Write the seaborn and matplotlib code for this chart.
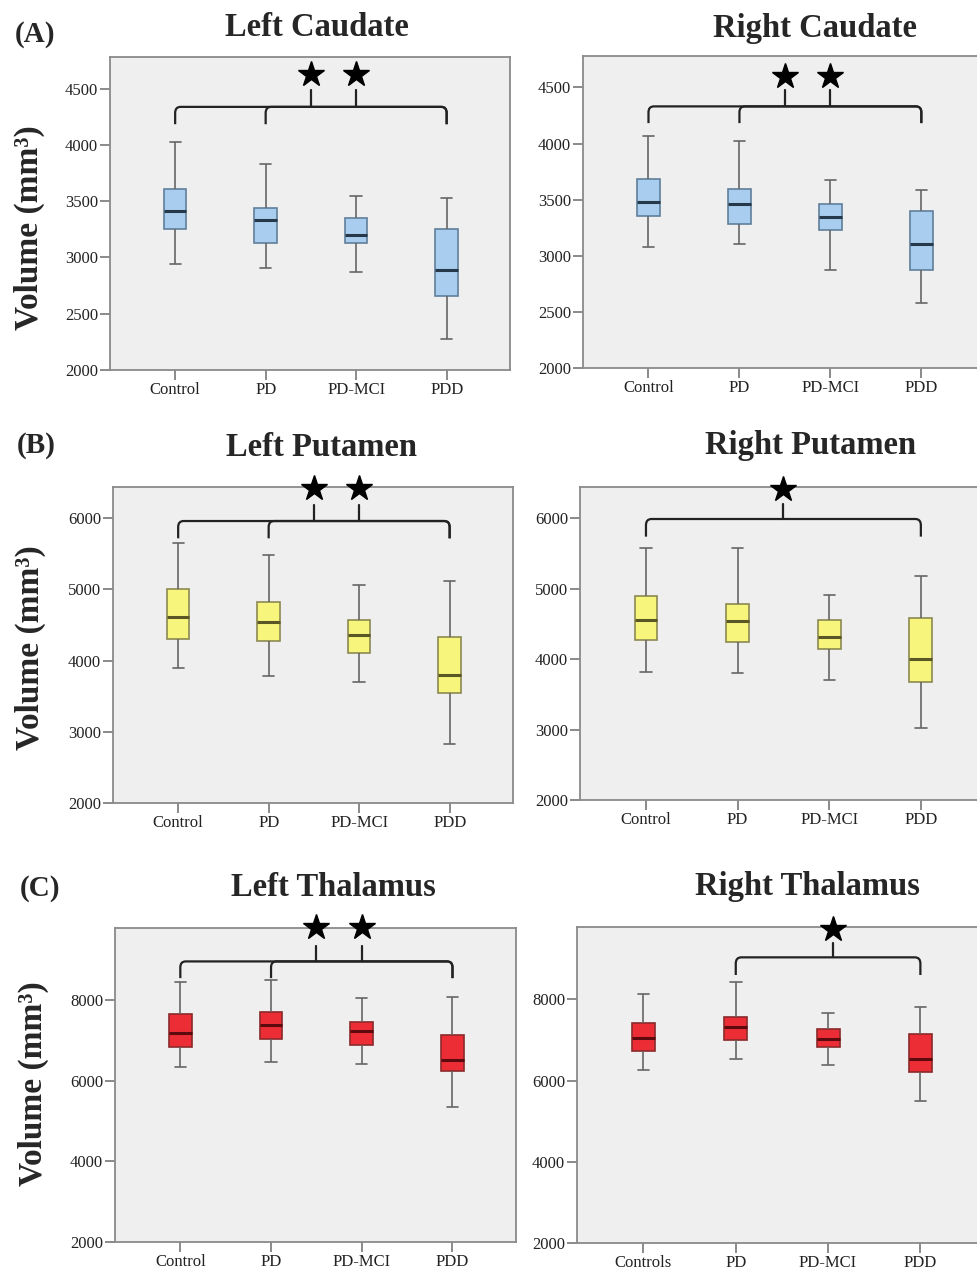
import numpy as np
import pandas as pd
import seaborn as sns
import matplotlib.pyplot as plt
from matplotlib.path import Path
from matplotlib.patches import PathPatch

groups = ["Control", "PD", "PD-MCI", "PDD"]
groups_rt = ["Controls", "PD", "PD-MCI", "PDD"]

# five-number summaries: min, q1, median, q3, max
left_caudate = [[2938, 3251, 3411, 3607, 4027],
                [2902, 3127, 3328, 3441, 3831],
                [2873, 3124, 3198, 3349, 3541],
                [2275, 2660, 2885, 3251, 3530]]
right_caudate = [[3075, 3351, 3479, 3686, 4069],
                 [3104, 3286, 3461, 3591, 4019],
                 [2876, 3226, 3342, 3464, 3678],
                 [2582, 2876, 3105, 3398, 3588]]
left_putamen = [[3890, 4307, 4607, 5006, 5648],
                [3782, 4270, 4546, 4818, 5484],
                [3702, 4101, 4359, 4565, 5062],
                [2825, 3547, 3796, 4335, 5114]]
right_putamen = [[3811, 4274, 4557, 4896, 5571],
                 [3807, 4241, 4538, 4778, 5575],
                 [3698, 4137, 4307, 4547, 4915],
                 [3028, 3670, 3995, 4580, 5184]]
left_thalamus = [[6345, 6833, 7189, 7661, 8430],
                 [6469, 7040, 7371, 7702, 8488],
                 [6419, 6875, 7222, 7446, 8050],
                 [5344, 6229, 6510, 7123, 8075]]
right_thalamus = [[6262, 6738, 7049, 7426, 8123],
                  [6533, 6992, 7328, 7574, 8434],
                  [6385, 6828, 7025, 7270, 7672],
                  [5484, 6221, 6533, 7156, 7820]]

caudate_ticks = [2000, 2500, 3000, 3500, 4000, 4500]
putamen_ticks = [2000, 3000, 4000, 5000, 6000]
thalamus_ticks = [2000, 4000, 6000, 8000]

W, H = 977, 1270
SERIF = "Liberation Serif"

sns.set_style("white")
plt.rcParams["font.family"] = [SERIF, "DejaVu Sans"]

fig = plt.figure(figsize=(W / 100, H / 100), dpi=100)


def px_axes(l, t, r, b):
    return fig.add_axes([l / W, 1 - b / H, (r - l) / W, (b - t) / H])


def curly(ax, x0, x1, y, y_end, rx=0.06):
    ry = (y - y_end) * 0.35
    verts = [(x0, y_end), (x0, y - ry), (x0, y), (x0 + rx, y),
             (x1 - rx, y), (x1, y), (x1, y - ry), (x1, y_end)]
    codes = [Path.MOVETO, Path.LINETO, Path.CURVE3, Path.CURVE3,
             Path.LINETO, Path.CURVE3, Path.CURVE3, Path.LINETO]
    ax.add_patch(PathPatch(Path(verts, codes), fill=False, lw=1.6,
                           color="#222222", clip_on=False))


def draw_panel(box, summary, names, color, edge, med, ylim, ticks, ann):
    ax = px_axes(*box)
    df = pd.DataFrame({
        "group": np.repeat(names, 5),
        "volume": np.concatenate(summary),
    })
    sns.boxplot(data=df, x="group", y="volume", order=names, ax=ax,
                whis=(0, 100), width=0.25, color=color, saturation=1,
                linecolor=edge, linewidth=1.2,
                whiskerprops={"color": "#666666"},
                capprops={"color": "#666666"},
                medianprops={"color": med, "linewidth": 2.2})
    ax.set_facecolor("#efefef")
    ax.set_xlim(-0.72, 3.70)
    ax.set_ylim(*ylim)
    ax.set_yticks(ticks)
    ax.set_xlabel("")
    ax.set_ylabel("")
    for s in ax.spines.values():
        s.set_color("#8a8a8a")
        s.set_linewidth(1.3)
    ax.tick_params(axis="both", direction="out", length=7, width=1.2,
                   color="#777777", labelsize=12, labelcolor="#222222",
                   left=True, bottom=True)
    ax.tick_params(axis="x", pad=1.5)
    ax.tick_params(axis="y", pad=1.5)
    for lbl in ax.get_xticklabels() + ax.get_yticklabels():
        lbl.set_fontfamily(SERIF)

    y, y_end, y_spike, y_star = ann["y"]
    for x0 in ann["starts"]:
        curly(ax, x0, 3, y, y_end)
    for xs in ann["stars"]:
        ax.plot([xs, xs], [y, y_spike], color="#222222", lw=1.6, clip_on=False)
        ax.plot([xs], [y_star], marker="*", markersize=19, color="black",
                clip_on=False, zorder=5)
    return ax


blue, blue_edge, blue_med = "#a9cdee", "#5f7f9a", "#26394a"
yel, yel_edge, yel_med = "#f7f57c", "#8c8950", "#5a5626"
red, red_edge, red_med = "#ec2d35", "#8a2a2a", "#5c0a0d"

draw_panel((110, 57, 510, 370), left_caudate, groups, blue, blue_edge,
           blue_med, (2000, 4780), caudate_ticks,
           {"y": (4337, 4183, 4485, 4633), "starts": [0, 1],
            "stars": [1.5, 2.0]})
draw_panel((583, 56, 985, 368), right_caudate, groups, blue, blue_edge,
           blue_med, (2000, 4780), caudate_ticks,
           {"y": (4331, 4182, 4473, 4598), "starts": [0, 1],
            "stars": [1.5, 2.0]})
draw_panel((113, 487, 513, 803), left_putamen, groups, yel, yel_edge,
           yel_med, (2000, 6440), putamen_ticks,
           {"y": (5962, 5719, 6188, 6422), "starts": [0, 1],
            "stars": [1.5, 2.0]})
draw_panel((580, 487, 985, 800), right_putamen, groups, yel, yel_edge,
           yel_med, (2000, 6440), putamen_ticks,
           {"y": (5986, 5736, 6198, 6410), "starts": [0],
            "stars": [1.5]})
draw_panel((115, 928, 516, 1242), left_thalamus, groups, red, red_edge,
           red_med, (2000, 9780), thalamus_ticks,
           {"y": (8952, 8538, 9341, 9804), "starts": [0, 1],
            "stars": [1.5, 2.0]})
draw_panel((577, 927, 985, 1243), right_thalamus, groups_rt, red,
           red_edge, red_med, (2000, 9780), thalamus_ticks,
           {"y": (9033, 8598, 9377, 9721), "starts": [1],
            "stars": [2.05]})

for x, y in [(29, 228), (30, 648), (33, 1084)]:
    fig.text(x / W, 1 - y / H, "Volume (mm³)", rotation=90, ha="center",
             va="center", fontsize=24, fontweight="bold", fontfamily=SERIF)

titles = [("Left Caudate", 317, 27), ("Right Caudate", 815, 29),
          ("Left Putamen", 322, 447), ("Right Putamen", 811, 446),
          ("Left Thalamus", 333, 887), ("Right Thalamus", 807, 887)]
for txt, x, y in titles:
    fig.text(x / W, 1 - y / H, txt, ha="center", va="center", fontsize=23.5,
             fontweight="bold", fontfamily=SERIF)

for txt, x, y in [("(A)", 35, 34), ("(B)", 36, 446), ("(C)", 40, 889)]:
    fig.text(x / W, 1 - y / H, txt, ha="center", va="center", fontsize=21,
             fontweight="bold", fontfamily=SERIF)

fig.savefig("out.png", dpi=100, facecolor="white")
